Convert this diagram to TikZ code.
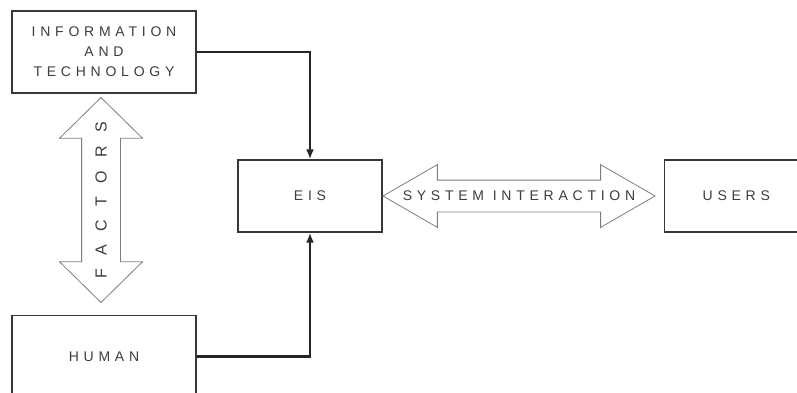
\documentclass[tikz,border=0pt]{standalone}
\usepackage{fontspec}
\setmainfont{Liberation Sans}
\newfontfamily\spaced[LetterSpace=34]{Liberation Sans}
\newfontfamily\widespaced[LetterSpace=85]{Liberation Sans}
\usetikzlibrary{shapes.arrows,positioning,arrows.meta}
\definecolor{boxline}{RGB}{55,55,55}
\definecolor{textgray}{RGB}{60,60,60}
\definecolor{arrowline}{RGB}{125,125,125}

\begin{document}
\begin{tikzpicture}[
	x=1pt, y=-1pt,
	>={Latex[length=10pt,width=8pt]},
	box/.style={
		rectangle,
		draw=boxline,
		line width=1.3pt,
		minimum width=184pt,
		minimum height=82pt,
		align=center,
		font=\fontsize{14}{20}\selectfont\spaced,
		text=textgray
	},
	small/.style={
		box,
		minimum width=144pt,
		minimum height=72pt
	},
	link/.style={
		draw,
		->,
		line width=2.4pt,
		color=black!85
	},
	bigarrow/.style={
		double arrow,
		draw=arrowline,
		line width=0.8pt,
		inner xsep=0pt
	},
	label/.style={
		font=\fontsize{14}{20}\selectfont\spaced,
		text=textgray
	}
	]
	\useasboundingbox (0,0) rectangle (797,392);
	\clip (0,0) rectangle (797,392);
	
	% Boxes
	\node[box] (info) at (104,52) {INFORMATION\\AND\\TECHNOLOGY};
	\node[box,below=221pt of info] (human) {HUMAN};
	\node[small] (eis) at (310,196) {EIS};
	\node[small,right=281pt of eis] (users) {USERS};
	
	% Inputs into EIS
	\draw[link] (info.east) -| (eis.north);
	\draw[link] (human.east) -| (eis.south);
	
	% Factors arrow
	\node[bigarrow,rotate=90,minimum height=205pt,minimum width=82pt,inner ysep=19pt,
	double arrow head extend=22pt,double arrow tip angle=91] (factors) at (101,200) {};
	\node[label,rotate=90,font=\fontsize{16}{20}\selectfont\widespaced] at (factors) {FACTORS};
	
	% System interaction arrow
	\node[bigarrow,minimum height=272pt,minimum width=62pt,inner ysep=15.5pt,
	double arrow head extend=15.5pt,double arrow tip angle=60] (interact) at (519,196) {};
	\node[label] at (interact) {SYSTEM INTERACTION};
	
\end{tikzpicture}
\end{document}
